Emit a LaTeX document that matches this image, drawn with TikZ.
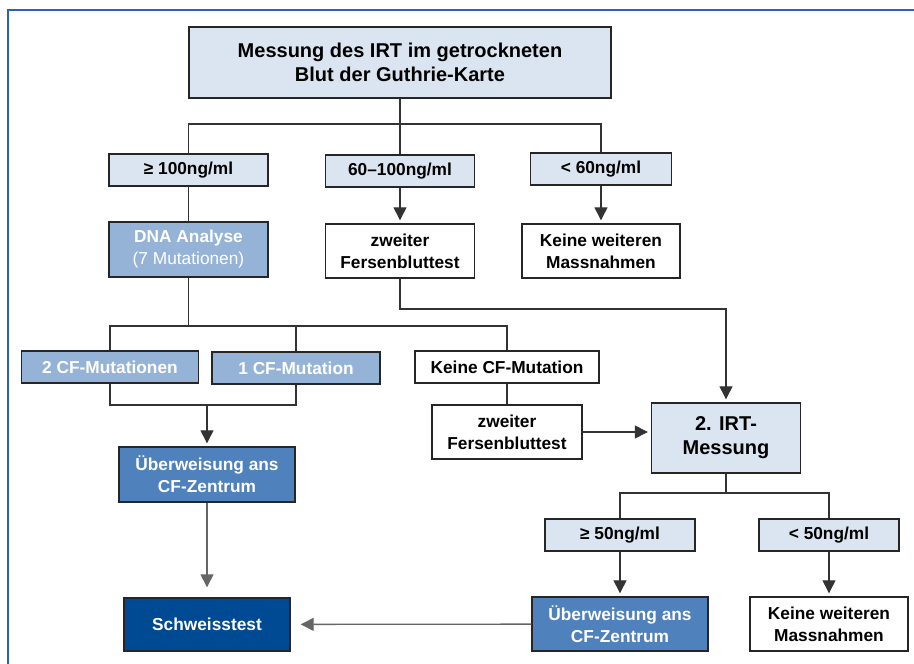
\documentclass[tikz,border=0pt]{standalone}
\usepackage{fontspec}
\setmainfont{Liberation Sans}
\usepackage{tikz}
\usetikzlibrary{arrows.meta}
\usetikzlibrary{positioning}
\definecolor{paleblue}{HTML}{DBE5F1}
\definecolor{midblue}{HTML}{95B3D7}
\definecolor{accblue}{HTML}{4F81BD}
\definecolor{deepblue}{HTML}{004A93}
\definecolor{framecol}{HTML}{2A64AE}
\tikzstyle{basebox}=[draw=black!85,line width=1.4pt,rectangle,align=center,inner sep=0pt,font=\fontsize{17.3}{22}\selectfont\bfseries]
\tikzstyle{bigtext}=[font=\fontsize{20}{24}\selectfont\bfseries]
\tikzstyle{rangebox}=[basebox,fill=paleblue,minimum height=32pt]
\tikzstyle{whitebox}=[basebox,fill=white,minimum height=54pt]
\tikzstyle{mutabox}=[basebox,fill=midblue,text=white,minimum height=32pt]
\tikzstyle{referbox}=[basebox,fill=accblue,text=white,minimum height=55pt]
\tikzstyle{conn} = [draw,line width=1.3pt,black!80]
\tikzstyle{arr} = [conn,-{Triangle[length=13pt,width=13pt]},shorten >=3pt]
\tikzstyle{arrG} = [arr,black!60,shorten >=10pt]

\begin{document}
\begin{tikzpicture}[x=1pt,y=-1pt]
\useasboundingbox (0,0) rectangle (914,664);
\draw[framecol,line width=1.5pt] (8,664) |- (914,10);

	\node[basebox,bigtext,fill=paleblue,minimum width=422pt,minimum height=71pt] (mes) at (400,62.5) {Messung des IRT im getrockneten\\Blut der Guthrie-Karte};

	\node[rangebox,minimum width=159pt] (r100) at (188.5,170) {≥ 100ng/ml};
	\node[rangebox,minimum width=149pt] (r60) at (400,171) {60–100ng/ml};
	\node[rangebox,minimum width=141pt] (r0) at (601,169) {< 60ng/ml};

	\node[mutabox,minimum width=159pt,minimum height=55pt] (dna) at (188.5,249.5) {DNA Analyse\\{\mdseries (7 Mutationen)}};
	\node[whitebox,minimum width=149pt] (fb1) at (400,251) {zweiter\\Fersenbluttest};
	\node[whitebox,minimum width=158pt] (kw1) at (601,251) {Keine weiteren\\Massnahmen};

	\node[mutabox,minimum width=177pt] (m2) at (110,367) {2 CF-Mutationen};
	\node[mutabox,minimum width=168pt] (m1) at (296,368) {1 CF-Mutation};
	\node[whitebox,minimum width=184pt,minimum height=32pt] (m0) at (507,367) {Keine CF-Mutation};
	\node[whitebox,minimum width=150pt] (fb2) at (507,432) {zweiter\\Fersenbluttest};

	\node[referbox,minimum width=176pt] (ue1) at (207,474.5) {Überweisung ans\\CF-Zentrum};
	\node[referbox,fill=deepblue,minimum width=166pt,minimum height=53pt] (sw) at (207,624.5) {Schweisstest};

	\node[rangebox,bigtext,minimum width=149pt,minimum height=70pt] (irt) at (726,438) {2. IRT-\\Messung};
	\node[rangebox,minimum width=150pt] (r50a) at (620,535) {≥ 50ng/ml};
	\node[rangebox,minimum width=140pt] (r50b) at (829,535) {< 50ng/ml};
	\node[referbox,minimum width=176pt,minimum height=54pt] (ue2) at (620,624) {Überweisung ans\\CF-Zentrum};
	\node[whitebox,minimum width=158pt] (kw2) at (829,624) {Keine weiteren\\Massnahmen};

	\coordinate (j1) at (400,124);
	\coordinate (j2) at (188.5,326);
	\coordinate (j3) at (207,405);
	\coordinate (j4) at (726,309);
	\coordinate (j5) at (726,493);

	\path[conn] (mes) -- (j1) -- (r60);
	\path[conn] (r100.north) |- (j1) -| (r0.north);
	\path[conn] (r100) -- (dna);
	\path[arr] (r60) -- (fb1);
	\path[arr] (r0) -- (kw1);

	\path[conn] (dna) -- (j2);
	\path[conn] (m2.north) |- (j2) -| (m0.north);
	\path[conn] (m1.north) -- (m1.north |- j2);
	\path[conn] (m2.south) |- (j3) -| (m1.south);
	\path[arr] (j3) -- (ue1);
	\path[arrG] (ue1) -- (sw);

	\path[conn] (m0) -- (fb2);
	\path[arr] (fb2.east) -- (fb2.east -| irt.west);
	\path[arr] (fb1.south) |- (j4) -- (irt);

	\path[conn] (irt) -- (j5);
	\path[conn] (r50a.north) |- (j5) -| (r50b.north);
	\path[arr] (r50a) -- (ue2);
	\path[arr] (r50b) -- (kw2);
	\path[arrG] (ue2) -- (sw);
\end{tikzpicture}
\end{document}
